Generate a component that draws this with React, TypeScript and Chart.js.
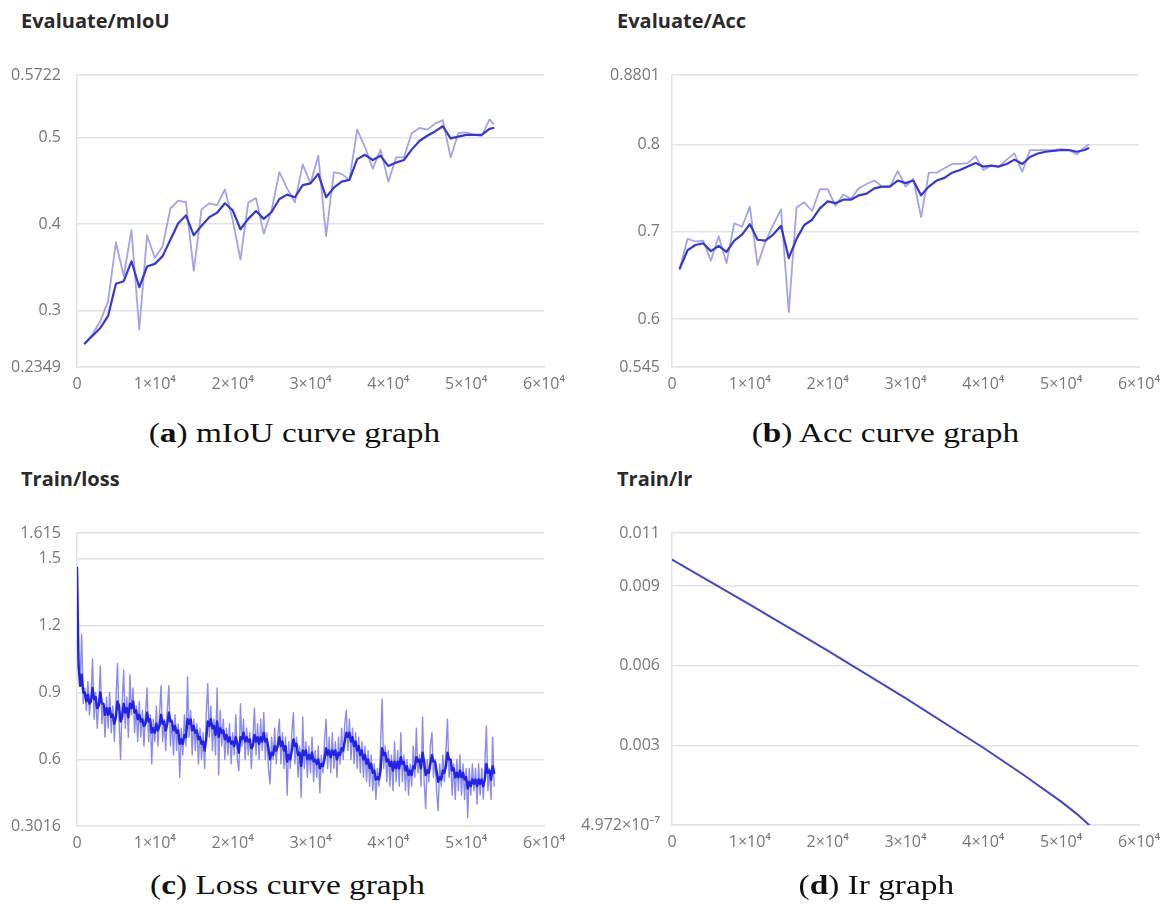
import React, { useEffect, useRef } from 'react';
import { Chart, registerables } from 'chart.js';

Chart.register(...registerables);

// ---------------- data ----------------
const xTickValues = [0, 10000, 20000, 30000, 40000, 50000, 60000];
const xTickLabels = ['0', '1×10⁴', '2×10⁴', '3×10⁴', '4×10⁴', '5×10⁴', '6×10⁴'];

const evalIters = [
  1000, 2000, 3000, 4000, 5000, 6000, 7000, 8000, 9000, 10000,
  11000, 12000, 13000, 14000, 15000, 16000, 17000, 18000, 19000, 20000,
  21000, 22000, 23000, 24000, 25000, 26000, 27000, 28000, 29000, 30000,
  31000, 32000, 33000, 34000, 35000, 36000, 37000, 38000, 39000, 40000,
  41000, 42000, 43000, 44000, 45000, 46000, 47000, 48000, 49000, 50000,
  51000, 52000, 53000, 53500,
];

const mIoURaw = [
  0.262, 0.273, 0.288, 0.311, 0.379, 0.340, 0.393, 0.278, 0.387, 0.361,
  0.374, 0.418, 0.427, 0.425, 0.346, 0.417, 0.424, 0.422, 0.440, 0.405,
  0.359, 0.425, 0.430, 0.389, 0.416, 0.460, 0.441, 0.425, 0.469, 0.447,
  0.479, 0.386, 0.460, 0.458, 0.451, 0.509, 0.489, 0.464, 0.486, 0.449,
  0.477, 0.477, 0.505, 0.511, 0.509, 0.516, 0.520, 0.477, 0.505, 0.506,
  0.503, 0.502, 0.521, 0.516,
];
const mIoUSmooth = [
  0.262, 0.271, 0.280, 0.294, 0.331, 0.334, 0.357, 0.327, 0.351, 0.354,
  0.363, 0.382, 0.401, 0.410, 0.387, 0.398, 0.408, 0.413, 0.424, 0.416,
  0.394, 0.406, 0.415, 0.406, 0.414, 0.429, 0.434, 0.431, 0.445, 0.447,
  0.458, 0.431, 0.442, 0.449, 0.451, 0.475, 0.480, 0.474, 0.479, 0.467,
  0.471, 0.474, 0.486, 0.496, 0.502, 0.507, 0.513, 0.499, 0.501, 0.503,
  0.503, 0.503, 0.510, 0.511,
];
const mIoUYTicks = [0.2349, 0.3, 0.4, 0.5, 0.5722];
const mIoUYLabels = ['0.2349', '0.3', '0.4', '0.5', '0.5722'];

const accRaw = [
  0.658, 0.692, 0.689, 0.690, 0.667, 0.695, 0.664, 0.710, 0.706, 0.729,
  0.662, 0.689, 0.708, 0.726, 0.608, 0.728, 0.734, 0.724, 0.749, 0.749,
  0.730, 0.743, 0.738, 0.750, 0.755, 0.759, 0.752, 0.752, 0.770, 0.752,
  0.761, 0.717, 0.768, 0.768, 0.773, 0.778, 0.778, 0.779, 0.787, 0.771,
  0.776, 0.775, 0.783, 0.790, 0.769, 0.794, 0.794, 0.794, 0.794, 0.795,
  0.794, 0.789, 0.797, 0.800,
];
const accSmooth = [
  0.658, 0.679, 0.685, 0.687, 0.678, 0.684, 0.677, 0.690, 0.697, 0.709,
  0.691, 0.690, 0.697, 0.707, 0.670, 0.692, 0.708, 0.714, 0.727, 0.735,
  0.733, 0.737, 0.737, 0.742, 0.744, 0.750, 0.752, 0.752, 0.759, 0.756,
  0.759, 0.742, 0.752, 0.759, 0.762, 0.768, 0.771, 0.775, 0.779, 0.775,
  0.776, 0.775, 0.778, 0.783, 0.778, 0.786, 0.790, 0.792, 0.793, 0.794,
  0.794, 0.792, 0.794, 0.796,
];
const accYTicks = [0.545, 0.6, 0.7, 0.8, 0.8801];
const accYLabels = ['0.545', '0.6', '0.7', '0.8', '0.8801'];

// loss logged every 200 iterations from iteration 0
const lossStep = 200;
const lossRaw = [
  1.46, 1.05, 0.95, 1.16, 0.85, 0.92, 0.82, 0.95, 0.80, 0.88,
  1.05, 0.78, 0.90, 0.74, 0.86, 1.02, 0.76, 0.85, 0.70, 0.88,
  0.74, 0.90, 0.72, 0.84, 0.68, 0.86, 1.03, 0.78, 0.60, 0.85,
  1.00, 0.74, 0.88, 0.70, 0.98, 0.80, 0.92, 0.72, 0.84, 0.68,
  0.86, 0.70, 0.82, 0.66, 0.80, 0.92, 0.68, 0.80, 0.58, 0.78,
  0.68, 0.84, 0.66, 0.80, 0.93, 0.68, 0.78, 0.64, 0.82, 0.93,
  0.66, 0.78, 0.62, 0.80, 0.64, 0.76, 0.52, 0.74, 0.62, 0.80,
  0.66, 0.97, 0.70, 0.82, 0.62, 0.78, 0.64, 0.76, 0.58, 0.74,
  0.60, 0.72, 0.56, 0.80, 0.94, 0.70, 0.84, 0.64, 0.78, 0.62,
  0.92, 0.53, 0.82, 0.66, 0.78, 0.60, 0.74, 0.62, 0.76, 0.58,
  0.72, 0.62, 0.80, 0.60, 0.55, 0.85, 0.66, 0.78, 0.60, 0.74,
  0.62, 0.72, 0.56, 0.70, 0.83, 0.62, 0.76, 0.60, 0.78, 0.64,
  0.81, 0.60, 0.72, 0.56, 0.49, 0.70, 0.60, 0.74, 0.58, 0.70,
  0.78, 0.58, 0.72, 0.56, 0.70, 0.44, 0.68, 0.56, 0.72, 0.81,
  0.58, 0.70, 0.52, 0.66, 0.43, 0.79, 0.56, 0.68, 0.52, 0.66,
  0.54, 0.70, 0.50, 0.64, 0.52, 0.66, 0.45, 0.62, 0.54, 0.68,
  0.78, 0.56, 0.70, 0.54, 0.72, 0.56, 0.68, 0.52, 0.70, 0.58,
  0.74, 0.60, 0.76, 0.82, 0.64, 0.78, 0.60, 0.74, 0.58, 0.72,
  0.56, 0.70, 0.54, 0.68, 0.52, 0.66, 0.50, 0.64, 0.48, 0.62,
  0.46, 0.58, 0.42, 0.56, 0.48, 0.66, 0.87, 0.56, 0.66, 0.50,
  0.64, 0.48, 0.62, 0.46, 0.68, 0.50, 0.64, 0.48, 0.72, 0.50,
  0.62, 0.46, 0.60, 0.44, 0.58, 0.48, 0.66, 0.52, 0.74, 0.54,
  0.62, 0.48, 0.79, 0.50, 0.38, 0.60, 0.50, 0.66, 0.72, 0.52,
  0.60, 0.46, 0.37, 0.58, 0.48, 0.62, 0.50, 0.64, 0.78, 0.52,
  0.60, 0.44, 0.58, 0.42, 0.60, 0.46, 0.62, 0.44, 0.58, 0.42,
  0.56, 0.34, 0.56, 0.44, 0.58, 0.46, 0.56, 0.40, 0.58, 0.44,
  0.56, 0.42, 0.58, 0.75, 0.46, 0.56, 0.42, 0.70, 0.48,
];
const lossSmooth = [
  1.46, 1.02, 0.93, 0.98, 0.90, 0.90, 0.86, 0.89, 0.85, 0.86,
  0.92, 0.87, 0.88, 0.83, 0.84, 0.90, 0.85, 0.85, 0.80, 0.83,
  0.80, 0.83, 0.79, 0.80, 0.76, 0.79, 0.86, 0.84, 0.77, 0.79,
  0.85, 0.81, 0.83, 0.79, 0.85, 0.83, 0.86, 0.81, 0.82, 0.78,
  0.80, 0.77, 0.78, 0.75, 0.76, 0.81, 0.77, 0.78, 0.72, 0.74,
  0.72, 0.76, 0.73, 0.75, 0.80, 0.76, 0.77, 0.73, 0.76, 0.81,
  0.77, 0.77, 0.73, 0.75, 0.72, 0.73, 0.67, 0.69, 0.67, 0.71,
  0.70, 0.78, 0.76, 0.78, 0.73, 0.75, 0.72, 0.73, 0.69, 0.70,
  0.67, 0.68, 0.64, 0.69, 0.77, 0.75, 0.78, 0.74, 0.75, 0.71,
  0.77, 0.70, 0.74, 0.72, 0.73, 0.69, 0.71, 0.68, 0.70, 0.67,
  0.68, 0.66, 0.70, 0.67, 0.63, 0.70, 0.69, 0.72, 0.68, 0.70,
  0.68, 0.69, 0.65, 0.66, 0.71, 0.68, 0.70, 0.67, 0.70, 0.68,
  0.72, 0.68, 0.69, 0.65, 0.60, 0.63, 0.62, 0.66, 0.64, 0.66,
  0.70, 0.66, 0.68, 0.64, 0.66, 0.59, 0.62, 0.60, 0.64, 0.69,
  0.66, 0.67, 0.62, 0.63, 0.57, 0.64, 0.62, 0.64, 0.60, 0.62,
  0.60, 0.63, 0.59, 0.60, 0.58, 0.60, 0.56, 0.58, 0.57, 0.60,
  0.65, 0.62, 0.64, 0.61, 0.64, 0.62, 0.64, 0.60, 0.63, 0.62,
  0.65, 0.64, 0.68, 0.72, 0.70, 0.72, 0.68, 0.70, 0.66, 0.68,
  0.64, 0.66, 0.62, 0.64, 0.60, 0.62, 0.58, 0.60, 0.56, 0.58,
  0.54, 0.55, 0.51, 0.52, 0.51, 0.55, 0.65, 0.62, 0.63, 0.59,
  0.60, 0.57, 0.59, 0.55, 0.59, 0.56, 0.59, 0.56, 0.61, 0.58,
  0.59, 0.55, 0.57, 0.53, 0.55, 0.53, 0.57, 0.56, 0.61, 0.59,
  0.60, 0.56, 0.63, 0.59, 0.53, 0.55, 0.54, 0.58, 0.62, 0.59,
  0.59, 0.55, 0.50, 0.52, 0.51, 0.55, 0.54, 0.57, 0.63, 0.60,
  0.60, 0.55, 0.56, 0.52, 0.54, 0.52, 0.55, 0.52, 0.54, 0.51,
  0.52, 0.47, 0.50, 0.48, 0.51, 0.49, 0.51, 0.48, 0.51, 0.49,
  0.51, 0.48, 0.51, 0.58, 0.54, 0.55, 0.51, 0.57, 0.54,
];
const lossYTicks = [0.3016, 0.6, 0.9, 1.2, 1.5, 1.615];
const lossYLabels = ['0.3016', '0.6', '0.9', '1.2', '1.5', '1.615'];

const lrIters = [0, 10000, 20000, 30000, 40000, 45000, 50000, 52000, 53600];
const lrValues = [0.0100, 0.0083, 0.00657, 0.00478, 0.00291, 0.00192, 0.00088, 0.00042, 0.0000004972];
const lrYTicks = [0.0000004972, 0.003, 0.006, 0.009, 0.011];
const lrYLabels = ['4.972×10⁻⁷', '0.003', '0.006', '0.009', '0.011'];

// ---------------- styling ----------------
const GRID = '#e3e3e3';
const TICK_COLOR = '#777777';
const TICK_FONT = { family: '"Open Sans", sans-serif', size: 16 };

type Spec = {
  yTicks: number[];
  yLabels: string[];
  yW: number;
  yPad: number;
  padRight: number;
  padTop: number;
  xH: number;
  datasets: any[];
};

function makeConfig(spec: Spec): any {
  return {
    type: 'line',
    data: { datasets: spec.datasets },
    options: {
      responsive: false,
      animation: false,
      devicePixelRatio: 1,
      events: [],
      layout: { padding: { left: 0, right: spec.padRight, top: spec.padTop, bottom: 0 } },
      plugins: {
        legend: { display: false },
        tooltip: { enabled: false },
        title: { display: false },
      },
      elements: { point: { radius: 0 }, line: { tension: 0 } },
      scales: {
        x: {
          type: 'linear',
          min: 0,
          max: 60000,
          grid: { display: false, drawTicks: false },
          border: { display: true, color: GRID, width: 1.5 },
          afterBuildTicks: (s: any) => {
            s.ticks = xTickValues.map((v) => ({ value: v }));
          },
          afterFit: (s: any) => {
            s.height = spec.xH;
            s.paddingLeft = 0;
            s.paddingRight = 0;
          },
          ticks: {
            autoSkip: false,
            maxRotation: 0,
            minRotation: 0,
            padding: 8,
            color: TICK_COLOR,
            font: TICK_FONT,
            callback: (_v: any, i: number) => xTickLabels[i],
          },
        },
        y: {
          type: 'linear',
          min: spec.yTicks[0],
          max: spec.yTicks[spec.yTicks.length - 1],
          grid: { color: GRID, lineWidth: 1.5, drawTicks: false },
          border: { display: true, color: GRID, width: 1.5 },
          afterBuildTicks: (s: any) => {
            s.ticks = spec.yTicks.map((v) => ({ value: v }));
          },
          afterFit: (s: any) => {
            s.width = spec.yW;
            s.paddingTop = 0;
            s.paddingBottom = 0;
          },
          ticks: {
            autoSkip: false,
            padding: spec.yPad,
            color: TICK_COLOR,
            font: TICK_FONT,
            callback: (_v: any, i: number) => spec.yLabels[i],
          },
        },
      },
    },
  };
}

function line(xs: number[], ys: number[], color: string, width: number) {
  return {
    data: xs.map((x, i) => ({ x, y: ys[i] })),
    borderColor: color,
    borderWidth: width,
    pointRadius: 0,
    tension: 0,
    fill: false,
    borderJoinStyle: 'round',
    borderCapStyle: 'round',
  };
}

function ChartCanvas(props: { left: number; top: number; width: number; height: number; spec: Spec }) {
  const ref = useRef<HTMLCanvasElement | null>(null);
  useEffect(() => {
    if (!ref.current) return;
    const chart = new Chart(ref.current, makeConfig(props.spec));
    return () => chart.destroy();
  }, []);
  return (
    <canvas
      ref={ref}
      width={props.width}
      height={props.height}
      style={{ position: 'absolute', left: props.left, top: props.top, width: props.width, height: props.height }}
    />
  );
}

function Title(props: { text: string; left: number; top: number }) {
  return (
    <div
      style={{
        position: 'absolute',
        left: props.left,
        top: props.top,
        lineHeight: '28px',
        fontFamily: '"Open Sans", sans-serif',
        fontWeight: 'bold',
        fontSize: 20,
        color: '#2a2a2a',
        whiteSpace: 'nowrap',
      }}
    >
      {props.text}
    </div>
  );
}

function Caption(props: { letter: string; text: string; cx: number; cy: number }) {
  return (
    <div
      style={{
        position: 'absolute',
        left: props.cx - 300,
        width: 600,
        top: props.cy - 20,
        height: 36,
        lineHeight: '36px',
        textAlign: 'center',
        fontFamily: '"Liberation Serif", serif',
        fontSize: 28,
        color: '#111',
        whiteSpace: 'nowrap',
      }}
    >
      <span style={{ display: 'inline-block', transform: 'scaleX(1.19)', transformOrigin: 'center' }}>
        (<b>{props.letter}</b>){props.text}
      </span>
    </div>
  );
}

const lossIters = lossRaw.map((_v, i) => i * lossStep);

const specA: Spec = {
  yTicks: mIoUYTicks, yLabels: mIoUYLabels, yW: 77, yPad: 16, padRight: 42, padTop: 25, xH: 33,
  datasets: [line(evalIters, mIoUSmooth, '#3838cf', 2.2), line(evalIters, mIoURaw, '#a3a3e8', 1.8)],
};
const specB: Spec = {
  yTicks: accYTicks, yLabels: accYLabels, yW: 86, yPad: 12, padRight: 33, padTop: 25, xH: 33,
  datasets: [line(evalIters, accSmooth, '#3838cf', 2.2), line(evalIters, accRaw, '#a3a3e8', 1.8)],
};
const specC: Spec = {
  yTicks: lossYTicks, yLabels: lossYLabels, yW: 77, yPad: 16, padRight: 42, padTop: 28, xH: 29,
  datasets: [
    line(lossIters, lossSmooth, '#2222e4', 2.4),
    line(lossIters, lossRaw, '#8a8af2', 1.4),
  ],
};
const specD: Spec = {
  yTicks: lrYTicks, yLabels: lrYLabels, yW: 112, yPad: 12, padRight: 33, padTop: 28, xH: 30,
  datasets: [line(lrIters, lrValues, '#4646c4', 2)],
};

export default function App() {
  return (
    <div
      style={{
        position: 'absolute',
        left: 0,
        top: 0,
        width: 1172,
        height: 908,
        background: '#ffffff',
        overflow: 'hidden',
      }}
    >
      <ChartCanvas left={0} top={50} width={586} height={350} spec={specA} />
      <ChartCanvas left={586} top={50} width={586} height={350} spec={specB} />
      <ChartCanvas left={0} top={505} width={586} height={350} spec={specC} />
      <ChartCanvas left={560} top={505} width={612} height={350} spec={specD} />

      <Title text="Evaluate/mIoU" left={21} top={7} />
      <Title text="Evaluate/Acc" left={617} top={7} />
      <Title text="Train/loss" left={21} top={465} />
      <Title text="Train/lr" left={617} top={465} />

      <Caption letter="a" text=" mIoU curve graph" cx={294} cy={435} />
      <Caption letter="b" text=" Acc curve graph" cx={885} cy={435} />
      <Caption letter="c" text=" Loss curve graph" cx={287} cy={887} />
      <Caption letter="d" text=" Ir graph" cx={876} cy={887} />
    </div>
  );
}
